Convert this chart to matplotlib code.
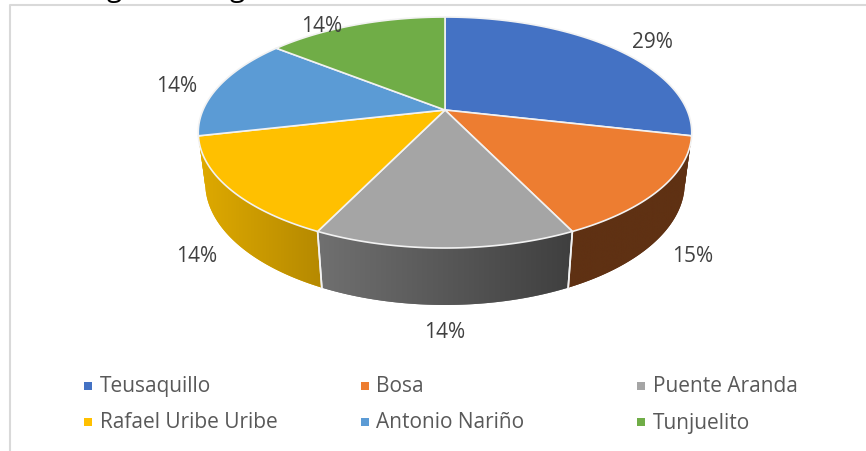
import numpy as np
import matplotlib
matplotlib.use("Agg")
import matplotlib.pyplot as plt
from matplotlib.colors import to_rgb
from matplotlib.patches import Polygon, Rectangle

plt.rcParams['font.family'] = ['Open Sans', 'DejaVu Sans']

categories = ['Teusaquillo', 'Bosa', 'Puente Aranda', 'Rafael Uribe Uribe', 'Antonio Nariño', 'Tunjuelito']
counts = [2, 1, 1, 1, 1, 1]
pct_labels = ['29%', '15%', '14%', '14%', '14%', '14%']
top_colors = ['#4472C4', '#ED7D31', '#A5A5A5', '#FFC000', '#5B9BD5', '#70AD47']
# wall colours, left end and right end. slices 0 and 4 only show a sliver at the
# silhouette, in the reference that sliver reads as the neighbour's colour
side_left = ['#5F3113', '#5F3113', '#707070', '#DFAA00', '#DFAA00', '#4C7830']
side_right = ['#5F3113', '#5F3113', '#3F3F3F', '#B58900', '#DFAA00', '#4C7830']
label_pos = [(652, 42), (693, 257), (445, 333), (197, 257), (177, 87), (322, 27)]

# camera for the tilted disc, in picture pixels
CX, CY = 445, 110
A, B, C = 242, 111.1, -0.195
K, D = 0.028, 51.3


def project(theta, bottom=False):
    # theta clockwise from twelve o'clock, in radians
    u, v = np.sin(theta), -np.cos(theta)
    w = 1 + C * v + (K if bottom else 0)
    return CX + A * u / w, CY + (B * v + (D if bottom else 0)) / w


fig = plt.figure(figsize=(8.66, 4.51), dpi=100)
ax = fig.add_axes([0, 0, 1, 1])
ax.axis('off')

# chart frame, only left and top show
ax.plot([10.3, 10.3, 866], [451, 4.5, 4.5], color='#D9D9D9', lw=1.5, zorder=1)

# bottom of the cut off heading above the chart
ax.text(114, -4, 'g', ha='center', va='baseline', fontsize=20, color='black', clip_on=False)
ax.text(237, -4, 'g', ha='center', va='baseline', fontsize=20, color='black', clip_on=False)

edges = np.cumsum([0] + counts) / sum(counts) * 2 * np.pi

# walls first
for i in range(len(counts)):
    th = np.linspace(edges[i], edges[i + 1], 121)
    th = th[np.cos(th) <= -0.15]
    if len(th) < 2:
        continue
    x0, y0 = project(th)
    x1, y1 = project(th, bottom=True)
    xs = np.concatenate([x0, x1[::-1]])
    ys = np.concatenate([y0, y1[::-1]])
    patch = Polygon(np.column_stack([xs, ys]), closed=True, fc=side_left[i], ec='none', zorder=2)
    ax.add_patch(patch)
    grad = np.linspace(to_rgb(side_left[i]), to_rgb(side_right[i]), 256)[None, :, :]
    im = ax.imshow(grad, extent=[xs.min(), xs.max(), ys.max(), ys.min()], aspect='auto', zorder=2.5)
    im.set_clip_path(patch)
    # white seams between the walls
    for e in (edges[i], edges[i + 1]):
        if np.cos(e) < -0.5:
            xa, ya = project(e)
            xb, yb = project(e, bottom=True)
            ax.plot([xa, xb], [ya, yb], color='#F2F2F2', lw=1.2, zorder=3)

# top faces
for i in range(len(counts)):
    th = np.linspace(edges[i], edges[i + 1], 121)
    x, y = project(th)
    pts = [(CX, CY)] + list(zip(x, y))
    ax.add_patch(Polygon(pts, closed=True, fc=top_colors[i], ec='#F2F2F2', lw=1.2, joinstyle='round', zorder=4))

# data labels
for (lx, ly), s in zip(label_pos, pct_labels):
    ax.text(lx, ly, s, ha='center', va='center', fontsize=15, color='#404040', zorder=6)

# legend
for i, name in enumerate(categories):
    col, row = i % 3, i // 3
    lx = 84 + col * 276.5
    ly = 385.5 + row * 36.5
    ax.add_patch(Rectangle((lx, ly - 4), 8, 8, fc=top_colors[i], ec='none', zorder=6))
    ax.text(lx + 16, ly + 1, name, ha='left', va='center', fontsize=15, color='#595959', zorder=6)

ax.set_xlim(0, 866)
ax.set_ylim(451, 0)
fig.savefig('out.png', dpi=100, facecolor='white')
